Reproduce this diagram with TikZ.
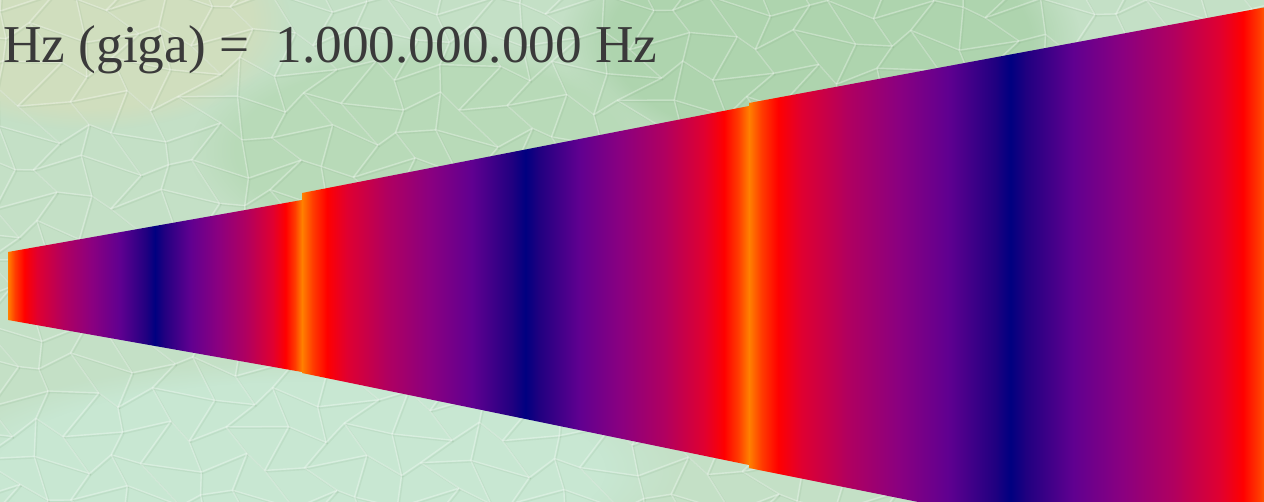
\documentclass[tikz,border=0pt]{standalone}
\usepackage{fontspec}
\setmainfont{Liberation Serif}
\usetikzlibrary{fadings}

\definecolor{bgBase}{RGB}{196,224,198}
\definecolor{bgDeep}{RGB}{174,212,174}
\definecolor{bgSoft}{RGB}{184,218,184}
\definecolor{bgSand}{RGB}{208,222,190}
\definecolor{bgMint}{RGB}{200,231,210}
\definecolor{bgShadow}{RGB}{120,160,120}
\definecolor{textGray}{RGB}{58,58,58}
\definecolor{waveOrange}{RGB}{255,128,0}
\definecolor{waveOrRed}{RGB}{255,60,0}
\definecolor{waveRed}{RGB}{255,0,0}
\definecolor{waveCrim}{RGB}{224,0,48}
\definecolor{waveRose}{RGB}{176,0,96}
\definecolor{wavePlum}{RGB}{138,0,128}
\definecolor{waveViol}{RGB}{96,0,144}
\definecolor{waveIndi}{RGB}{32,0,128}
\definecolor{waveNavy}{RGB}{0,0,128}

% one period of the wave, middle 50bp is what ends up in the path
\pgfdeclarehorizontalshading{wavefront}{100bp}{%
  color(0bp)=(waveOrange); color(25bp)=(waveOrange);
  color(26.2bp)=(waveOrRed); color(27.8bp)=(waveRed);
  color(30bp)=(waveCrim); color(34.5bp)=(waveRose);
  color(39.3bp)=(wavePlum); color(44bp)=(waveViol);
  color(48.5bp)=(waveIndi); color(50bp)=(waveNavy);
  color(51.5bp)=(waveIndi); color(56bp)=(waveViol);
  color(60.7bp)=(wavePlum); color(65.5bp)=(waveRose);
  color(70bp)=(waveCrim); color(72.2bp)=(waveRed);
  color(73.8bp)=(waveOrRed); color(75bp)=(waveOrange);
  color(100bp)=(waveOrange)}

\tikzset{
  wave/.style={shading=wavefront},
  cell/.style={draw=white, draw opacity=0.30, line width=0.8pt},
  cellshadow/.style={draw=bgShadow, draw opacity=0.12, line width=0.8pt},
  blob/.style={path fading=circle with fuzzy edge 20 percent},
  declare function={
    jx(\a,\b)=\a*40+15*sin(97*\a+173*\b)+8*sin(31*\b*\b);
    jy(\a,\b)=\b*33+11*cos(131*\a+59*\b)+0.35*\a;
  }
}

\begin{document}
\begin{tikzpicture}[x=0.02cm, y=-0.02cm]
  \useasboundingbox (0,0) rectangle (1264,502);
  \clip (0,0) rectangle (1264,502);

  % textured background
  \fill[bgBase] (0,0) rectangle (1264,502);
  \fill[bgSand, blob] (90,20) ellipse (200 and 110);
  \fill[bgDeep, blob] (820,40) ellipse (260 and 130);
  \fill[bgSoft, blob] (430,150) ellipse (240 and 110);
  \fill[bgMint, blob] (300,470) ellipse (380 and 110);
  \fill[bgMint, blob] (1150,480) ellipse (220 and 80);
  \foreach \i in {-1,...,32} {
    \foreach \j in {-1,...,16} {
      \draw[cellshadow, shift={(1.5,1.5)}]
        ({jx(\i,\j)},{jy(\i,\j)}) -- ({jx(\i+1,\j)},{jy(\i+1,\j)})
        ({jx(\i,\j)},{jy(\i,\j)}) -- ({jx(\i,\j+1)},{jy(\i,\j+1)});
      \draw[cell]
        ({jx(\i,\j)},{jy(\i,\j)}) -- ({jx(\i+1,\j)},{jy(\i+1,\j)})
        ({jx(\i,\j)},{jy(\i,\j)}) -- ({jx(\i,\j+1)},{jy(\i,\j+1)});
    }
  }

  % the three widening wave segments
  \shade[wave] (8,252) -- (302,200) -- (302,372) -- (8,320) -- cycle;
  \shade[wave] (302,193) -- (749,106) -- (749,465) -- (302,373) -- cycle;
  \shade[wave] (749,103) -- (1272,6) -- (1272,573) -- (749,468) -- cycle;

  % heading
  \node[anchor=base west, inner sep=0pt, text=textGray,
        font=\fontsize{30.3}{32}\selectfont] (title) at (3,63)
    {Hz (giga) =\ \ 1.000.000.000 Hz};
\end{tikzpicture}
\end{document}
